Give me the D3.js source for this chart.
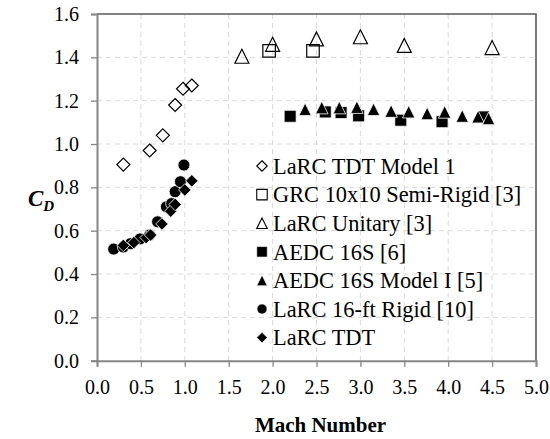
<!DOCTYPE html>
<html>
<head>
<meta charset="utf-8">
<script src="https://cdn.jsdelivr.net/npm/d3@7"></script>
<style>
  html, body { margin: 0; padding: 0; background: #fff; }
  svg { display: block; }
  svg text { font-family: "Liberation Serif", "Times New Roman", Times, serif; }
</style>
</head>
<body>
<svg id="chart" width="550" height="439"></svg>
<script>
// Drag coefficient versus Mach number, by facility / test series
const tdtModel1 = [[0.30, 0.905], [0.60, 0.97], [0.75, 1.04], [0.89, 1.18], [0.98, 1.255], [1.08, 1.27]];
const grcSemiRigid = [[1.96, 1.43], [2.46, 1.43]];
const larcUnitary = [[1.65, 1.405], [2.00, 1.46], [2.50, 1.485], [3.00, 1.495], [3.50, 1.455], [4.50, 1.445]];
const aedc16S = [[2.20, 1.128], [2.60, 1.148], [2.78, 1.145], [2.98, 1.13], [3.46, 1.11], [3.93, 1.103], [4.40, 1.125]];
const aedc16SModelI = [[2.37, 1.16], [2.56, 1.168], [2.76, 1.168], [2.96, 1.17], [3.15, 1.16], [3.35, 1.152], [3.55, 1.149], [3.76, 1.141], [3.96, 1.148], [4.16, 1.129], [4.34, 1.126], [4.46, 1.118]];
const larc16ftRigid = [[0.19, 0.515], [0.30, 0.525], [0.38, 0.54], [0.49, 0.562], [0.60, 0.58], [0.69, 0.641], [0.79, 0.71], [0.85, 0.725], [0.89, 0.78], [0.95, 0.826], [0.99, 0.903]];
const larcTDT = [[0.30, 0.532], [0.42, 0.545], [0.56, 0.568], [0.61, 0.58], [0.74, 0.631], [0.84, 0.69], [0.89, 0.721], [1.00, 0.788], [1.08, 0.83]];

const seriesNames = ["LaRC TDT Model 1", "GRC 10x10 Semi-Rigid [3]", "LaRC Unitary [3]", "AEDC 16S [6]", "AEDC 16S Model I [5]", "LaRC 16-ft Rigid [10]", "LaRC TDT"];
const seriesData = [tdtModel1, grcSemiRigid, larcUnitary, aedc16S, aedc16SModelI, larc16ftRigid, larcTDT];
const seriesShape = ["diamond", "square", "triangle", "square", "triangle", "circle", "diamond"];
const seriesFilled = [false, false, false, true, true, true, true];

const xTicks = [0, 0.5, 1.0, 1.5, 2.0, 2.5, 3.0, 3.5, 4.0, 4.5, 5.0];
const yTicks = [0, 0.2, 0.4, 0.6, 0.8, 1.0, 1.2, 1.4, 1.6];

const SERIF = "Liberation Serif";
const svg = d3.select("#chart");
const plot = { left: 97, right: 536, top: 14, bottom: 360.7 };

const x = d3.scaleLinear().domain([0, 5]).range([plot.left, plot.right]);
const y = d3.scaleLinear().domain([0, 1.6]).range([plot.bottom, plot.top]);

// Gridlines
const grid = svg.append("g");
grid.selectAll("line.v").data(xTicks.slice(1, -1)).join("line")
  .attr("x1", d => x(d)).attr("x2", d => x(d))
  .attr("y1", plot.top).attr("y2", plot.bottom)
  .attr("stroke", "#d9d9d9").attr("stroke-width", 1).attr("stroke-dasharray", "5,4");
grid.selectAll("line.h").data(yTicks.slice(1, -1)).join("line")
  .attr("x1", plot.left).attr("x2", plot.right)
  .attr("y1", d => y(d)).attr("y2", d => y(d))
  .attr("stroke", "#d9d9d9").attr("stroke-width", 1).attr("stroke-dasharray", "5,4");

// Frame on top and right
svg.append("path")
  .attr("d", `M${plot.left},${plot.top}H${plot.right}V${plot.bottom}`)
  .attr("fill", "none").attr("stroke", "#595959").attr("stroke-width", 1.6);

// Axes
const xAxis = svg.append("g").attr("transform", `translate(0,${plot.bottom})`)
  .call(d3.axisBottom(x).tickValues(xTicks).tickFormat(d3.format(".1f")).tickSize(6).tickPadding(13));
const yAxis = svg.append("g").attr("transform", `translate(${plot.left},0)`)
  .call(d3.axisLeft(y).tickValues(yTicks).tickFormat(d3.format(".1f")).tickSize(6).tickPadding(12));
[xAxis, yAxis].forEach(g => {
  g.attr("font-family", SERIF).attr("font-size", 20);
  g.select(".domain").attr("stroke", "#868686").attr("stroke-width", 2);
  g.selectAll(".tick line").attr("stroke", "#868686").attr("stroke-width", 1.3);
  g.selectAll(".tick text").attr("fill", "#000").attr("font-family", SERIF).attr("font-size", 20);
});

// Axis titles
svg.append("text")
  .attr("x", (plot.left + plot.right) / 2 + 4).attr("y", 432)
  .attr("text-anchor", "middle")
  .attr("font-family", SERIF).attr("font-size", 21).attr("font-weight", "bold")
  .text("Mach Number");

const cdLabel = svg.append("text")
  .attr("x", 28).attr("y", 206)
  .attr("font-family", SERIF).attr("font-size", 23)
  .attr("font-weight", "bold").attr("font-style", "italic");
cdLabel.append("tspan").text("C");
cdLabel.append("tspan").attr("dy", 5).attr("font-size", 15).text("D");

// Marker paths centred on the point
function markerPath(shape, s) {
  const h = s / 2;
  if (shape === "diamond") return `M0,${-h}L${h},0L0,${h}L${-h},0Z`;
  if (shape === "square") return `M${-h},${-h}H${h}V${h}H${-h}Z`;
  if (shape === "triangle") return `M0,${-h}L${h},${h}L${-h},${h}Z`;
  return d3.arc()({ innerRadius: 0, outerRadius: h, startAngle: 0, endAngle: 2 * Math.PI });
}
const openSize = { diamond: 13, square: 12.5, triangle: 14, circle: 11 };
const filledSize = { diamond: 12.5, square: 12, triangle: 12.5, circle: 12 };

// Data markers: open ones with a black outline, filled ones with a thin white edge
seriesData.forEach((data, i) => {
  const shape = seriesShape[i];
  const filled = seriesFilled[i];
  const size = filled ? filledSize[shape] : openSize[shape];
  svg.append("g").selectAll("path").data(data).join("path")
    .attr("transform", d => `translate(${x(d[0])},${y(d[1])})`)
    .attr("d", markerPath(shape, size))
    .attr("fill", filled ? "#000" : "none")
    .attr("stroke", filled ? "#fff" : "#000")
    .attr("stroke-width", filled ? 0.8 : 1.2);
});

// Legend
const legend = svg.append("g");
const legendX = 262, legendY0 = 166, legendStep = 28.6;
seriesNames.forEach((name, i) => {
  const shape = seriesShape[i];
  const filled = seriesFilled[i];
  const row = legend.append("g").attr("transform", `translate(${legendX},${legendY0 + i * legendStep})`);
  row.append("path")
    .attr("d", markerPath(shape, shape === "circle" ? 10 : 10.5))
    .attr("fill", filled ? "#000" : "#fff")
    .attr("stroke", filled ? "#fff" : "#000").attr("stroke-width", filled ? 0.6 : 1.1);
  row.append("text")
    .attr("x", 11).attr("dy", "0.35em")
    .attr("font-family", SERIF).attr("font-size", 22.4)
    .text(name);
});
</script>
</body>
</html>
